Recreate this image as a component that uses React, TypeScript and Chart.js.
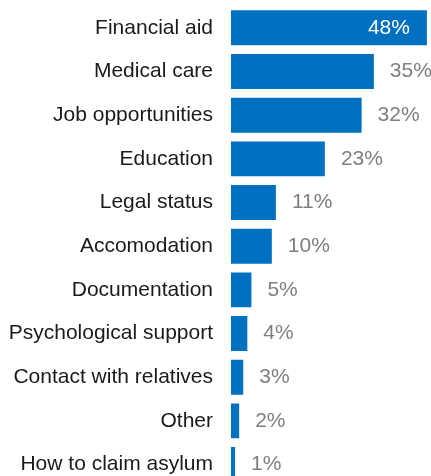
import React, { useEffect, useRef } from "react";
import { Chart, registerables } from "chart.js";

Chart.register(...registerables);

const categories = [
  "Financial aid",
  "Medical care",
  "Job opportunities",
  "Education",
  "Legal status",
  "Accomodation",
  "Documentation",
  "Psychological support",
  "Contact with relatives",
  "Other",
  "How to claim asylum",
];
const values = [48, 35, 32, 23, 11, 10, 5, 4, 3, 2, 1];
const valueLabels = ["48%", "35%", "32%", "23%", "11%", "10%", "5%", "4%", "3%", "2%", "1%"];

const FONT = "Arial, 'Liberation Sans', sans-serif";

const valuePlugin = {
  id: "valueLabels",
  afterDatasetsDraw(chart: any) {
    const ctx = chart.ctx;
    const meta = chart.getDatasetMeta(0);
    ctx.save();
    ctx.font = `21px ${FONT}`;
    ctx.textBaseline = "middle";
    meta.data.forEach((bar: any, i: number) => {
      const label = valueLabels[i];
      if (i === 0) {
        ctx.fillStyle = "#ffffff";
        ctx.textAlign = "right";
        ctx.fillText(label, bar.x - 17, bar.y);
      } else {
        ctx.fillStyle = "#7f7f7f";
        ctx.textAlign = "left";
        ctx.fillText(label, bar.x + 16, bar.y);
      }
    });
    ctx.restore();
  },
};

export default function App() {
  const ref = useRef<HTMLCanvasElement>(null);
  useEffect(() => {
    if (!ref.current) return;
    const chart = new Chart(ref.current, {
      type: "bar",
      data: {
        labels: categories,
        datasets: [
          {
            data: values,
            backgroundColor: "#0070C0",
            barPercentage: 0.8,
            categoryPercentage: 1,
          },
        ],
      },
      options: {
        indexAxis: "y",
        animation: false,
        responsive: false,
        maintainAspectRatio: false,
        layout: { autoPadding: false, padding: { top: 6, bottom: 3.6, left: 0, right: 0 } },
        plugins: { legend: { display: false }, tooltip: { enabled: false } },
        scales: {
          x: { display: false, min: 0, max: 49 },
          y: {
            grid: { display: false, drawTicks: false },
            border: { display: false },
            ticks: {
              color: "#1a1a1a",
              font: { size: 21, family: FONT },
              padding: 18,
            },
            afterFit(scale: any) {
              scale.width = 231;
              scale.paddingTop = 0;
              scale.paddingBottom = 0;
            },
          },
        },
      },
      plugins: [valuePlugin],
    });
    return () => chart.destroy();
  }, []);
  return (
    <div style={{ position: "absolute", left: 0, top: 0, width: 431, height: 490, background: "#fff" }}>
      <canvas ref={ref} width={431} height={490} style={{ width: 431, height: 490 }} />
    </div>
  );
}
